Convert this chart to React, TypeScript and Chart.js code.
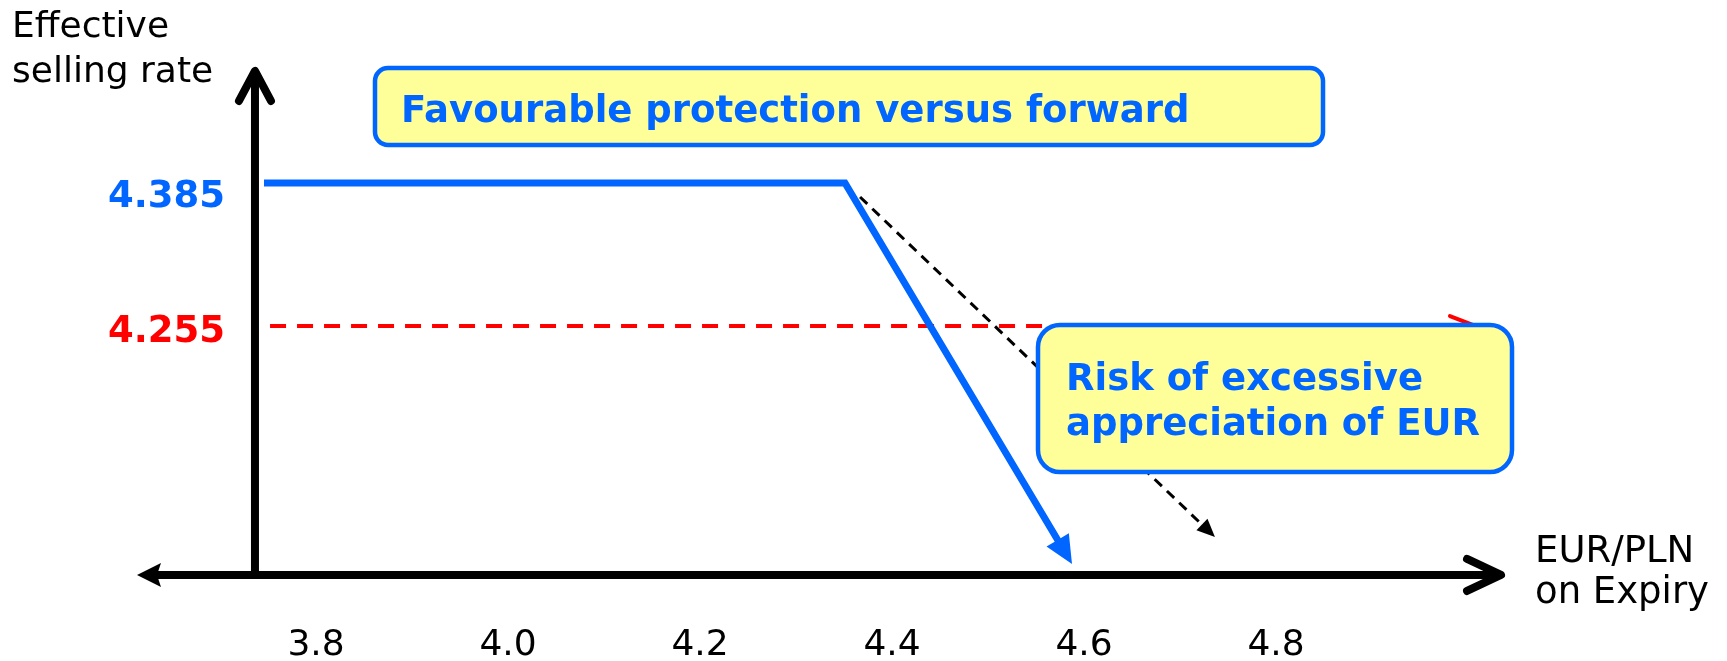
import { useEffect, useRef } from 'react';
import { Chart, registerables } from 'chart.js';

Chart.register(...registerables);

// EUR/PLN rate on expiry shown along the horizontal axis
const RATE_TICKS = [3.8, 4.0, 4.2, 4.4, 4.6, 4.8];
const RATE_TICK_LABELS = ['3.8', '4.0', '4.2', '4.4', '4.6', '4.8'];

// Key levels of the effective selling rate
const PROTECTED_RATE = 4.385;
const FORWARD_RATE = 4.255;

// Structure payoff: flat at the protected rate, then falling away
const PAYOFF_X = [3.7458, 4.351, 4.5875];
const PAYOFF_Y = [PROTECTED_RATE, PROTECTED_RATE, 4.0387];

// Forward rate reference line
const FORWARD_X = [3.7521, 5.0083];
const FORWARD_Y = [FORWARD_RATE, FORWARD_RATE];

// Continuation of the decline without the structure
const UNHEDGED_X = [4.3667, 4.7364];
const UNHEDGED_Y = [4.3723, 4.0632];

// Where the axes cross and how far they reach
const ORIGIN_X = 3.7364;
const ORIGIN_Y = 4.0287;
const X_AXIS_FROM = 3.6135;
const X_AXIS_TO = 5.0344;
const Y_AXIS_TO = 4.4869;

const BLUE = '#0066ff';
const RED = '#ff0000';
const FONT = '"DejaVu Sans", Verdana, sans-serif';
const PAYOFF_HEAD = { len: 28, half: 13 };

const toPoints = (xs: number[], ys: number[]) => xs.map((x, i) => ({ x, y: ys[i] }));

type P = { x: number; y: number };

function unit(from: P, to: P) {
  const dx = to.x - from.x;
  const dy = to.y - from.y;
  const l = Math.hypot(dx, dy) || 1;
  return { ux: dx / l, uy: dy / l };
}

function lastTwo(chart: any, i: number): P[] {
  const pts = chart.getDatasetMeta(i).data;
  return [pts[pts.length - 2], pts[pts.length - 1]];
}

function filledHead(ctx: CanvasRenderingContext2D, from: P, tip: P, len: number, half: number, color: string, notch = 0) {
  const { ux, uy } = unit(from, tip);
  const nx = -uy;
  const ny = ux;
  const bx = tip.x - ux * len;
  const by = tip.y - uy * len;
  ctx.save();
  ctx.fillStyle = color;
  ctx.beginPath();
  ctx.moveTo(tip.x, tip.y);
  ctx.lineTo(bx + nx * half, by + ny * half);
  ctx.lineTo(tip.x - ux * (len - notch), tip.y - uy * (len - notch));
  ctx.lineTo(bx - nx * half, by - ny * half);
  ctx.closePath();
  ctx.fill();
  ctx.restore();
}

function openHead(ctx: CanvasRenderingContext2D, from: P, tip: P, len: number, half: number, color: string, width: number) {
  const { ux, uy } = unit(from, tip);
  const nx = -uy;
  const ny = ux;
  const bx = tip.x - ux * len;
  const by = tip.y - uy * len;
  ctx.save();
  ctx.strokeStyle = color;
  ctx.lineWidth = width;
  ctx.lineCap = 'round';
  ctx.lineJoin = 'round';
  ctx.beginPath();
  ctx.moveTo(bx + nx * half, by + ny * half);
  ctx.lineTo(tip.x, tip.y);
  ctx.lineTo(bx - nx * half, by - ny * half);
  ctx.stroke();
  ctx.restore();
}

function roundBox(ctx: CanvasRenderingContext2D, x: number, y: number, w: number, h: number, r: number) {
  ctx.save();
  ctx.beginPath();
  ctx.roundRect(x, y, w, h, r);
  ctx.fillStyle = '#ffff99';
  ctx.fill();
  ctx.lineWidth = 4.5;
  ctx.strokeStyle = BLUE;
  ctx.stroke();
  ctx.restore();
}

const payoffDecor = {
  id: 'payoffDecor',
  // stop the thick payoff line where its arrowhead begins
  beforeDatasetDraw(chart: any, args: any) {
    if (args.index !== 0) return;
    const { ctx } = chart;
    const [a, b] = lastTwo(chart, 0);
    const { ux, uy } = unit(a, b);
    const nx = -uy;
    const ny = ux;
    const cx = b.x - ux * (PAYOFF_HEAD.len - 3);
    const cy = b.y - uy * (PAYOFF_HEAD.len - 3);
    const far = 5000;
    ctx.save();
    ctx.beginPath();
    ctx.moveTo(cx + nx * far, cy + ny * far);
    ctx.lineTo(cx + nx * far - ux * far, cy + ny * far - uy * far);
    ctx.lineTo(cx - nx * far - ux * far, cy - ny * far - uy * far);
    ctx.lineTo(cx - nx * far, cy - ny * far);
    ctx.closePath();
    ctx.clip();
  },
  afterDatasetDraw(chart: any, args: any) {
    if (args.index !== 0) return;
    chart.ctx.restore();
  },
  afterDatasetsDraw(chart: any) {
    const { ctx } = chart;
    const xs = chart.scales.x;
    const ys = chart.scales.y;

    // arrowheads at the ends of the three lines
    const [pa, pb] = lastTwo(chart, 0);
    filledHead(ctx, pa, pb, PAYOFF_HEAD.len, PAYOFF_HEAD.half, BLUE);
    const [fa, fb] = lastTwo(chart, 1);
    openHead(ctx, fa, fb, 26, 10, RED, 4);
    const [ua, ub] = lastTwo(chart, 2);
    filledHead(ctx, ua, ub, 18, 8, '#000');

    // axes
    const ox = xs.getPixelForValue(ORIGIN_X);
    const oy = ys.getPixelForValue(ORIGIN_Y);
    const xl = xs.getPixelForValue(X_AXIS_FROM);
    const xr = xs.getPixelForValue(X_AXIS_TO);
    const yt = ys.getPixelForValue(Y_AXIS_TO);
    ctx.save();
    ctx.strokeStyle = '#000';
    ctx.lineWidth = 8;
    ctx.lineCap = 'butt';
    ctx.beginPath();
    ctx.moveTo(ox, oy);
    ctx.lineTo(ox, yt + 2);
    ctx.moveTo(xl + 15, oy);
    ctx.lineTo(xr - 2, oy);
    ctx.stroke();
    ctx.restore();
    openHead(ctx, { x: ox, y: oy }, { x: ox, y: yt }, 30, 16, '#000', 8);
    openHead(ctx, { x: xl, y: oy }, { x: xr, y: oy }, 34, 16, '#000', 8);
    filledHead(ctx, { x: xr, y: oy }, { x: xl, y: oy }, 24, 12, '#000', 4);

    // callout boxes
    roundBox(ctx, 375, 68, 948, 77, 13);
    roundBox(ctx, 1038, 325, 474, 147, 22);

    ctx.save();
    ctx.textBaseline = 'alphabetic';
    ctx.fillStyle = BLUE;
    ctx.font = `bold 37px ${FONT}`;
    ctx.textAlign = 'left';
    ctx.fillText('Favourable protection versus forward', 401, 122);
    ctx.fillText('Risk of excessive', 1066, 390);
    ctx.fillText('appreciation of EUR', 1066, 435);

    // level labels on the vertical axis
    ctx.textAlign = 'right';
    ctx.fillStyle = BLUE;
    ctx.fillText('4.385', 225, ys.getPixelForValue(PROTECTED_RATE) + 24);
    ctx.fillStyle = RED;
    ctx.fillText('4.255', 225, ys.getPixelForValue(FORWARD_RATE) + 16);

    // axis titles
    ctx.fillStyle = '#000';
    ctx.font = `36px ${FONT}`;
    ctx.textAlign = 'left';
    ctx.fillText('Effective', 12, 37);
    ctx.fillText('selling rate', 12, 82);
    ctx.font = `37px ${FONT}`;
    ctx.fillText('EUR/PLN', 1535, 562);
    ctx.fillText('on Expiry', 1535, 603);

    // rate ticks
    ctx.font = `36px ${FONT}`;
    ctx.textAlign = 'center';
    RATE_TICKS.forEach((v, i) => {
      ctx.fillText(RATE_TICK_LABELS[i], xs.getPixelForValue(v), oy + 80);
    });
    ctx.restore();
  },
};

export default function App() {
  const ref = useRef<HTMLCanvasElement>(null);

  useEffect(() => {
    if (!ref.current) return;
    const chart = new Chart(ref.current, {
      type: 'scatter',
      data: {
        datasets: [
          {
            data: toPoints(PAYOFF_X, PAYOFF_Y),
            showLine: true,
            borderColor: BLUE,
            borderWidth: 7,
            pointRadius: 0,
            borderJoinStyle: 'miter',
            borderCapStyle: 'butt',
          },
          {
            data: toPoints(FORWARD_X, FORWARD_Y),
            showLine: true,
            borderColor: RED,
            borderWidth: 4,
            borderDash: [16, 11],
            pointRadius: 0,
          },
          {
            data: toPoints(UNHEDGED_X, UNHEDGED_Y),
            showLine: true,
            borderColor: '#000',
            borderWidth: 3,
            borderDash: [10, 7],
            pointRadius: 0,
          },
        ],
      },
      options: {
        animation: false,
        responsive: false,
        devicePixelRatio: 1,
        events: [],
        layout: { padding: 0 },
        plugins: { legend: { display: false }, tooltip: { enabled: false } },
        scales: {
          x: { type: 'linear', display: false, min: 3.4708, max: 5.2698 },
          y: { type: 'linear', display: false, min: 3.9505, max: 4.5514 },
        },
      },
      plugins: [payoffDecor],
    });
    return () => chart.destroy();
  }, []);

  return (
    <div style={{ position: 'fixed', left: 0, top: 0, width: 1727, height: 661, background: '#fff' }}>
      <canvas ref={ref} width={1727} height={661} style={{ display: 'block' }} />
    </div>
  );
}
